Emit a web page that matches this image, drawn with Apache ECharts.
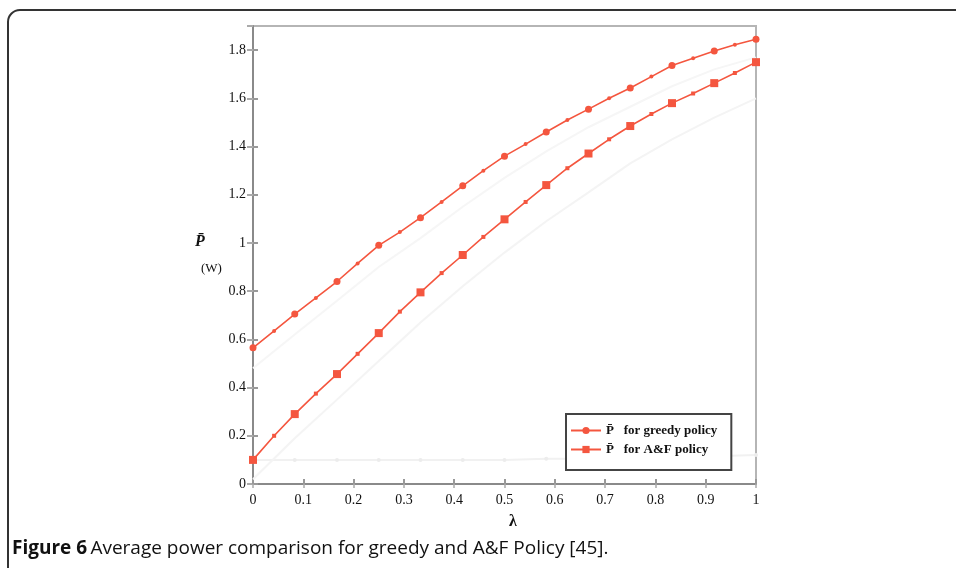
<!DOCTYPE html>
<html>
<head>
<meta charset="utf-8">
<script src="https://cdn.jsdelivr.net/npm/echarts@6/dist/echarts.min.js"></script>
<style>
  html, body { margin: 0; padding: 0; background: #fff; }
  #chart { width: 956px; height: 568px; }
</style>
</head>
<body>
<div id="chart"></div>
<script>
// lambda sample points
var lambdas = [0, 0.042, 0.083, 0.125, 0.167, 0.208, 0.25, 0.292, 0.333, 0.375, 0.417, 0.458,
  0.5, 0.542, 0.583, 0.625, 0.667, 0.708, 0.75, 0.792, 0.833, 0.875, 0.917, 0.958, 1];
// average power (W)
var greedyPower = [0.565, 0.635, 0.705, 0.772, 0.84, 0.915, 0.99, 1.045, 1.105, 1.17, 1.237, 1.30,
  1.36, 1.41, 1.46, 1.51, 1.555, 1.60, 1.643, 1.69, 1.736, 1.766, 1.796, 1.822, 1.845];
var afPower = [0.10, 0.20, 0.29, 0.375, 0.456, 0.54, 0.626, 0.715, 0.795, 0.875, 0.95, 1.025,
  1.098, 1.17, 1.24, 1.31, 1.371, 1.43, 1.485, 1.535, 1.58, 1.62, 1.663, 1.705, 1.75];
// faint ghost traces visible in the scan
var ghostX = [0, 0.083, 0.167, 0.25, 0.333, 0.417, 0.5, 0.583, 0.667, 0.75, 0.833, 0.917, 1];
var ghostFlat = [0.10, 0.10, 0.10, 0.10, 0.10, 0.10, 0.10, 0.105, 0.105, 0.11, 0.11, 0.115, 0.12];
var ghostLow = [0.02, 0.19, 0.35, 0.51, 0.67, 0.82, 0.96, 1.09, 1.21, 1.33, 1.43, 1.52, 1.60];
var ghostMid = [0.48, 0.62, 0.76, 0.90, 1.02, 1.15, 1.27, 1.38, 1.48, 1.565, 1.65, 1.72, 1.77];

var xTicks = [0, 0.1, 0.2, 0.3, 0.4, 0.5, 0.6, 0.7, 0.8, 0.9, 1];
var yTicks = [0, 0.2, 0.4, 0.6, 0.8, 1, 1.2, 1.4, 1.6, 1.8];

var legendNames = ['P\u0304   for greedy policy', 'P\u0304   for A&F policy'];

function pairs(xs, ys) {
  return ys.map(function (v, i) { return [xs[i], v]; });
}

var red = '#f4563f';
var serif = 'Liberation Serif';

var chart = echarts.init(document.getElementById('chart'));

var option = {
  animation: false,
  backgroundColor: '#fff',
  grid: {
    left: 253,
    right: 200,
    top: 26,
    bottom: 84,
    show: true,
    borderColor: '#b5b5b5',
    borderWidth: 2
  },
  xAxis: [
    {
      type: 'value',
      min: 0,
      max: 1,
      interval: 0.1,
      axisLine: { lineStyle: { color: '#8a8a8a', width: 2 } },
      axisTick: { inside: true, length: 5, lineStyle: { color: '#999', width: 2 } },
      splitLine: { show: false },
      axisLabel: {
        color: '#111',
        fontFamily: serif,
        fontSize: 14,
        margin: 9,
        formatter: function (v) { return xTicks.indexOf(+v.toFixed(1)) >= 0 ? String(+v.toFixed(1)) : ''; }
      }
    },
    {
      type: 'value',
      position: 'top',
      min: 0,
      max: 1,
      interval: 0.1,
      axisLine: { show: false },
      axisTick: { inside: true, length: 4, lineStyle: { color: '#aaa', width: 1.5 } },
      axisLabel: { show: false },
      splitLine: { show: false }
    }
  ],
  yAxis: [
    {
      type: 'value',
      min: 0,
      max: 1.9,
      interval: 0.2,
      axisLine: { show: true, lineStyle: { color: '#8a8a8a', width: 2 } },
      axisTick: { show: true, inside: true, length: 5, lineStyle: { color: '#999', width: 2 } },
      splitLine: { show: false },
      axisLabel: {
        color: '#111',
        fontFamily: serif,
        fontSize: 14,
        margin: 7,
        showMaxLabel: false,
        formatter: function (v) { return yTicks.indexOf(+v.toFixed(1)) >= 0 ? String(+v.toFixed(1)) : ''; }
      }
    },
    {
      type: 'value',
      position: 'right',
      min: 0,
      max: 1.9,
      interval: 0.2,
      axisLine: { show: false },
      axisTick: { show: true, inside: true, length: 6, lineStyle: { color: '#aaa', width: 2 } },
      axisLabel: { show: false },
      splitLine: { show: false }
    }
  ],
  legend: {
    orient: 'vertical',
    left: 566,
    top: 414,
    width: 160,
    padding: [10, 14, 14, 4],
    itemGap: 6,
    itemWidth: 30,
    itemHeight: 9,
    borderColor: '#444',
    borderWidth: 2,
    backgroundColor: '#fff',
    data: legendNames,
    textStyle: {
      fontFamily: serif,
      fontSize: 13,
      fontWeight: 'bold',
      color: '#111'
    }
  },
  series: [
    {
      type: 'line',
      silent: true,
      data: pairs(ghostX, ghostFlat),
      symbol: 'circle',
      symbolSize: 4,
      lineStyle: { color: '#f1f1f1', width: 2 },
      itemStyle: { color: '#ececec' },
      z: 1
    },
    {
      type: 'line',
      silent: true,
      data: pairs(ghostX, ghostLow),
      symbol: 'none',
      lineStyle: { color: '#f4f4f4', width: 2 },
      z: 1
    },
    {
      type: 'line',
      silent: true,
      data: pairs(ghostX, ghostMid),
      symbol: 'none',
      lineStyle: { color: '#f6f6f6', width: 2 },
      z: 1
    },
    {
      name: legendNames[0],
      type: 'line',
      data: pairs(lambdas, greedyPower),
      symbol: 'circle',
      symbolSize: function (v, p) { return p.dataIndex % 2 ? 4 : 7; },
      lineStyle: { color: red, width: 1.6 },
      itemStyle: { color: red },
      z: 3
    },
    {
      name: legendNames[1],
      type: 'line',
      data: pairs(lambdas, afPower),
      symbol: 'rect',
      symbolSize: function (v, p) { return p.dataIndex % 2 ? 4 : 8; },
      lineStyle: { color: red, width: 1.6 },
      itemStyle: { color: red },
      z: 3
    }
  ],
  graphic: [
    {
      type: 'rect',
      shape: { x: 8, y: 10, width: 1000, height: 620, r: 12 },
      style: { fill: 'none', stroke: '#333', lineWidth: 2 },
      silent: true
    },
    {
      type: 'text',
      left: 195,
      top: 234,
      style: { text: 'P\u0304', font: 'italic bold 16px "Liberation Serif"', fill: '#111' }
    },
    {
      type: 'text',
      left: 201,
      top: 262,
      style: { text: '(W)', font: '13px "Liberation Serif"', fill: '#111' }
    },
    {
      type: 'text',
      left: 509,
      top: 514,
      style: { text: '\u03bb', font: 'bold 16px "Liberation Serif"', fill: '#111' }
    },
    {
      type: 'text',
      left: 12,
      top: 539,
      style: {
        text: '{b|Figure 6} {n|Average power comparison for greedy and A&F Policy [45].}',
        rich: {
          b: { fontFamily: 'Open Sans', fontWeight: 'bold', fontSize: 19, fill: '#111' },
          n: { fontFamily: 'Open Sans', fontSize: 19, fill: '#111' }
        }
      }
    }
  ]
};

chart.setOption(option);
</script>
</body>
</html>
